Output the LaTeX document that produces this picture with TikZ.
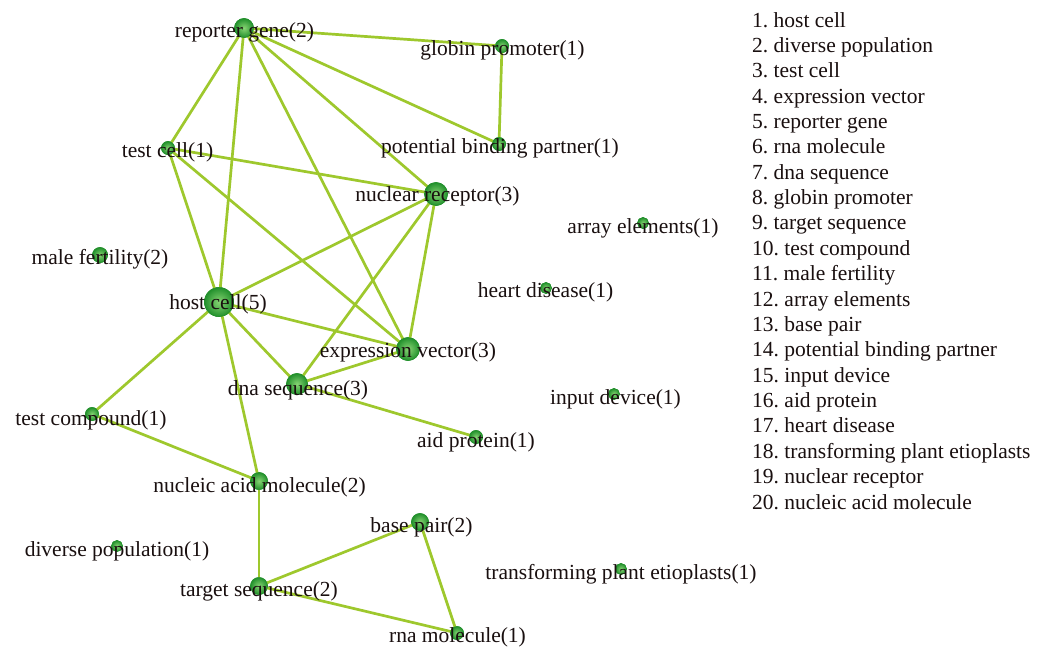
\documentclass[tikz,border=0pt]{standalone}
\usepackage{fontspec}
\setmainfont{Liberation Serif}
\definecolor{edgec}{RGB}{158,200,45}
\definecolor{ninner}{RGB}{135,212,115}
\definecolor{nouter}{RGB}{35,145,45}
\definecolor{txtc}{RGB}{25,15,15}
\begin{document}
\frenchspacing
\begin{tikzpicture}[x=1pt,y=-1pt,
  vert/.style={circle,inner sep=0pt,minimum size=#1,shading=radial,inner color=ninner,outer color=nouter,draw=nouter,line width=0.6pt},
  lab/.style={inner sep=0pt,text=txtc,font=\fontsize{21.5}{25}\selectfont},
  item/.style={inner sep=0pt,anchor=base west,text=txtc,font=\fontsize{21.5}{25}\selectfont},
  edge/.style={draw=edgec,line width=2.7pt}]
\useasboundingbox (0,0) rectangle (1039,646);
\fill[white] (0,0) rectangle (1039,646);
% vertices
\node[vert=19pt] (rg) at (244,28) {};
\node[vert=13pt] (gp) at (502,46) {};
\node[vert=13pt] (pbp) at (499,144) {};
\node[vert=13pt] (tc) at (168,148) {};
\node[vert=23pt] (nr) at (436,194) {};
\node[vert=11pt] (ae) at (643,223) {};
\node[vert=15pt] (mf) at (100,255) {};
\node[vert=11pt] (hd) at (546,288) {};
\node[vert=29pt] (hc) at (219,302) {};
\node[vert=23pt] (ev) at (408,349) {};
\node[vert=21pt] (ds) at (297,384) {};
\node[vert=11pt] (id) at (614,394) {};
\node[vert=13pt] (tcp) at (92,414) {};
\node[vert=13pt] (ap) at (476,437) {};
\node[vert=17pt] (nam) at (259,481) {};
\node[vert=17pt] (bp) at (420,522) {};
\node[vert=11pt] (dp) at (117,546) {};
\node[vert=11pt] (tpe) at (621,569) {};
\node[vert=17pt] (ts) at (259,586) {};
\node[vert=13pt] (rm) at (457,633) {};
% edges
\foreach \a/\b in {rg/gp,rg/pbp,rg/tc,rg/hc,rg/ev,rg/nr,gp/pbp,tc/nr,tc/hc,tc/ev,nr/hc,nr/ds,nr/ev,hc/ev,hc/ds,hc/tcp,hc/nam,tcp/nam,ds/ev,ds/ap,nam/ts,ts/bp,ts/rm,bp/rm}
  \draw[edge] (\a.center) -- (\b.center);
% redraw vertices over edges
\foreach \n/\s in {rg/19,gp/13,pbp/13,tc/13,nr/23,ae/11,mf/15,hd/11,hc/29,ev/23,ds/21,id/11,tcp/13,ap/13,nam/17,bp/17,dp/11,tpe/11,ts/17,rm/13}
  \node[vert=\s pt] at (\n.center) {};
% labels
\node[lab] (rgl) at (244.5,32) {reporter gene(2)};
\node[lab] (gpl) at (502.5,50) {globin promoter(1)};
\node[lab] (pbpl) at (500,148) {potential binding partner(1)};
\node[lab] (tcl) at (167.5,152) {test cell(1)};
\node[lab] (nrl) at (437.5,196) {nuclear receptor(3)};
\node[lab] (ael) at (643,228) {array elements(1)};
\node[lab] (mfl) at (100,259) {male fertility(2)};
\node[lab] (hdl) at (545.5,292) {heart disease(1)};
\node[lab] (hcl) at (218,304) {host cell(5)};
\node[lab] (evl) at (408,352) {expression vector(3)};
\node[lab] (dsl) at (298,390) {dna sequence(3)};
\node[lab] (idl) at (615.5,399) {input device(1)};
\node[lab] (tcpl) at (91,420) {test compound(1)};
\node[lab] (apl) at (476,442) {aid protein(1)};
\node[lab] (naml) at (259.5,487) {nucleic acid molecule(2)};
\node[lab] (bpl) at (421.5,527) {base pair(2)};
\node[lab] (dpl) at (117,551) {diverse population(1)};
\node[lab] (tpel) at (621,574) {transforming plant etioplasts(1)};
\node[lab] (tsl) at (259,591) {target sequence(2)};
\node[lab] (rml) at (457.5,637) {rna molecule(1)};
% list
\foreach \i/\t in {1/host cell,2/diverse population,3/test cell,4/expression vector,5/reporter gene,6/rna molecule,7/dna sequence,8/globin promoter,9/target sequence,10/test compound,11/male fertility,12/array elements,13/base pair,14/potential binding partner,15/input device,16/aid protein,17/heart disease,18/transforming plant etioplasts,19/nuclear receptor,20/nucleic acid molecule}
  \node[item] (l\i) at (752,{27+25.37*(\i-1)}) {\i. \t};
\end{tikzpicture}
\end{document}
